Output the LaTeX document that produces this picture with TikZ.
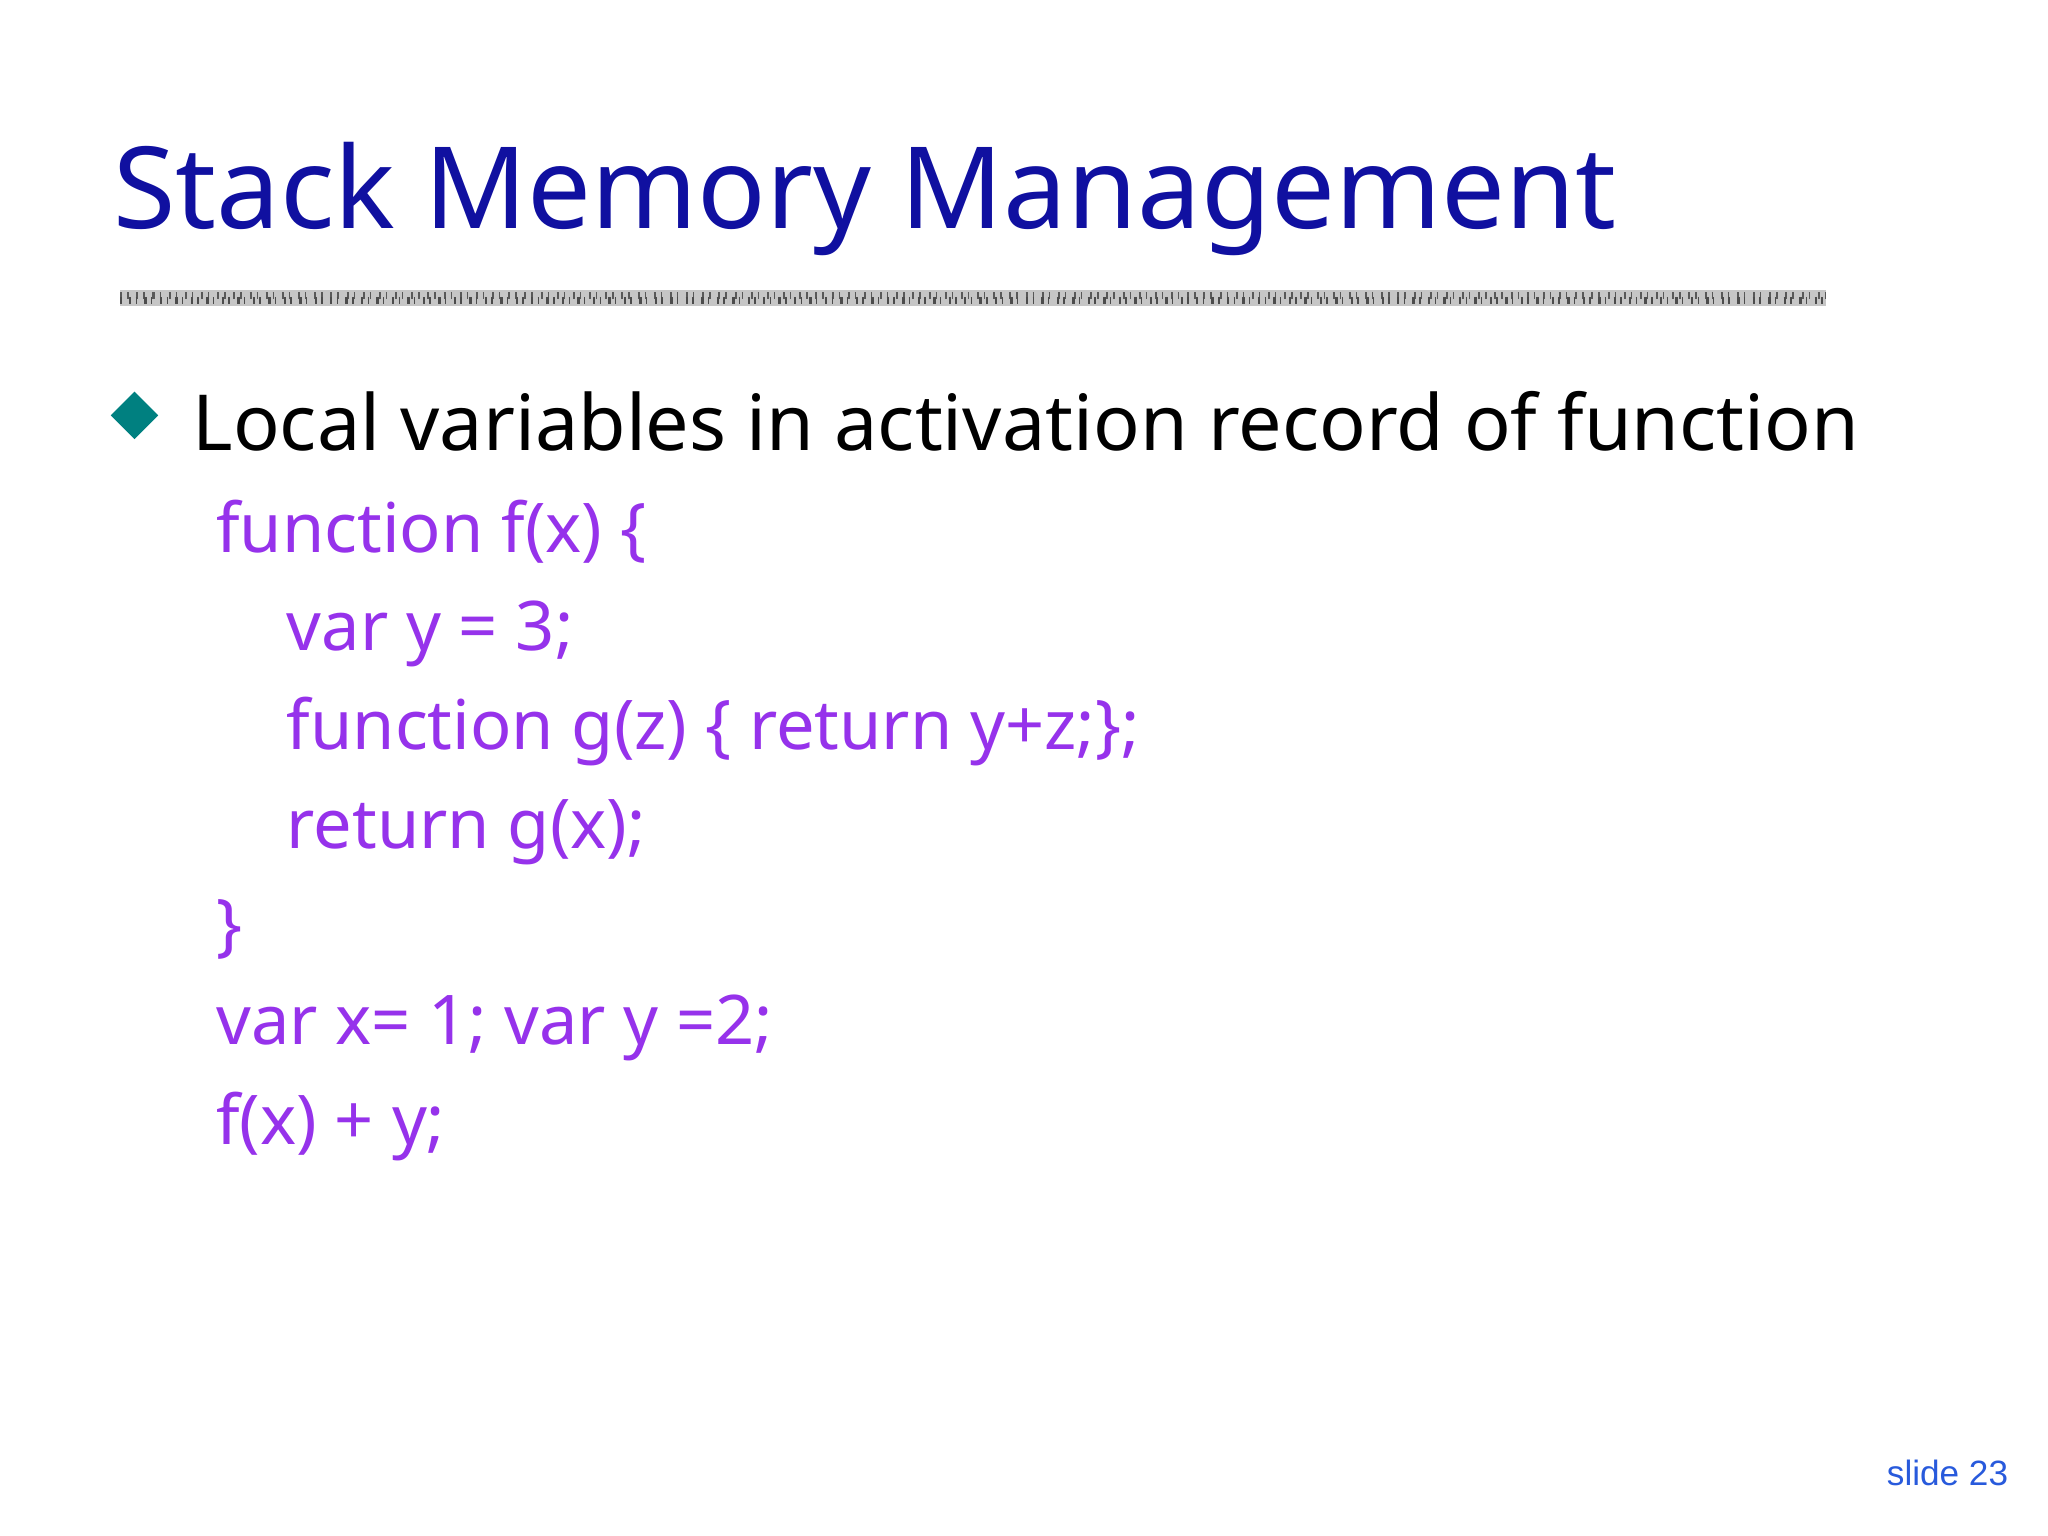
\documentclass[tikz,border=0pt]{standalone}
\usepackage{fontspec}
\setmainfont{Noto Sans}
\newfontfamily\slidefont{Liberation Sans}
\usetikzlibrary{shapes.geometric}
\definecolor{titleblue}{RGB}{16,16,160}
\definecolor{codepurple}{RGB}{150,50,235}
\definecolor{bulletteal}{RGB}{0,128,128}
\definecolor{slideblue}{RGB}{40,90,220}
\tikzset{
	codeline/.style={anchor=base west,inner sep=0pt,text=codepurple,font=\fontsize{19.5}{24}\selectfont},
}
\begin{document}
\begin{tikzpicture}[x=0.01306cm,y=-0.01306cm]
	\useasboundingbox[fill=white] (0,0) rectangle (1568,1176);
	% title and rule
	\node[anchor=base west,inner sep=0pt,text=titleblue,font=\fontsize{32.3}{38}\selectfont] (title) at (86,175) {Stack Memory Management};
	\draw[line width=4.5pt,gray!45] (92,228) -- (1398,228);
	\draw[line width=2pt,gray!70!black,dash pattern=on 0.6pt off 1.4pt on 0.4pt off 2.2pt] (92,226) -- (1398,226);
	\draw[line width=2pt,gray!60!black,dash pattern=on 0.4pt off 2.1pt on 0.7pt off 1.2pt] (92,230) -- (1398,230);
	% bullet
	\node[diamond,fill=bulletteal,inner sep=0pt,minimum size=0.48cm] (dot) at (103,318) {};
	\node[anchor=base west,inner sep=0pt,font=\fontsize{22}{27}\selectfont] (local) at (147,345) {Local variables in activation record of function};
	% code
	\node[codeline] (c1) at (165,423) {function f(x) \{};
	\node[codeline] (c2) at (219,498) {var y = 3;};
	\node[codeline] (c3) at (219,574) {function g(z) \{ return y+z;\};};
	\node[codeline] (c4) at (219,650) {return g(x);};
	\node[codeline] (c5) at (165,726) {\}};
	\node[codeline] (c6) at (165,800) {var x= 1; var y =2;};
	\node[codeline] (c7) at (165,876) {f(x) + y;};
	\node[anchor=base east,inner sep=0pt,text=slideblue,font=\slidefont\fontsize{10}{12}\selectfont] (num) at (1538,1137) {slide 23};
\end{tikzpicture}
\end{document}
